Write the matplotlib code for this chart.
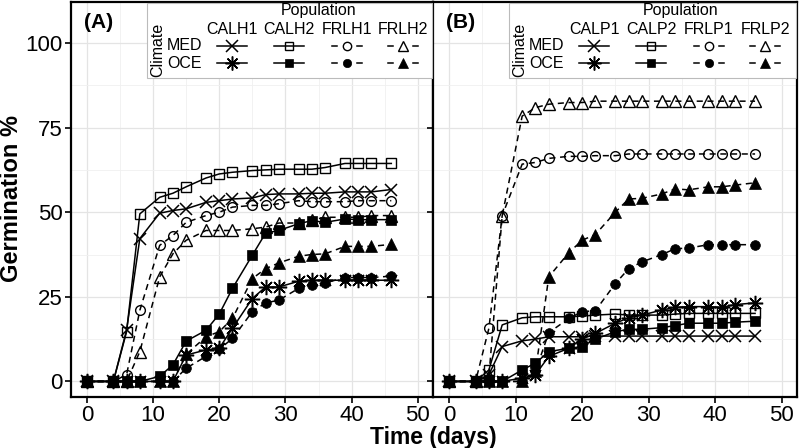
import matplotlib
matplotlib.use("Agg")
import matplotlib.pyplot as plt
from matplotlib.lines import Line2D
from matplotlib.patches import Rectangle

plt.rcParams['font.family'] = ['Liberation Sans', 'DejaVu Sans']

days = [0, 4, 6, 8, 11, 13, 15, 18, 20, 22, 25, 27, 29, 32, 34, 36, 39, 41, 43, 46]

# panel A (H populations)
calh1_med = [0, 0, 15.2, 42.2, 49.7, 50.5, 51, 52.9, 53.4, 53.9, 54.2, 55.2, 55.4, 55.4, 55.6, 55.6, 56, 56, 56, 56.7]
calh2_med = [0, 0, 14.7, 49.5, 54.4, 55.6, 57.5, 60.1, 61.3, 61.8, 62.3, 62.5, 62.7, 62.7, 62.7, 63.2, 64.4, 64.4, 64.4, 64.4]
frlh1_med = [0, 0, 2, 21, 40.2, 43.1, 47, 49, 50, 51.5, 52, 52, 52.5, 53.4, 53.1, 53.1, 53.1, 53.4, 53.4, 53.4]
frlh2_med = [0, 0, 0, 8.8, 30.9, 37.7, 41.7, 44.6, 44.6, 44.6, 45.1, 45.6, 46.8, 46.8, 47.7, 48.5, 48.5, 48.5, 49, 49]
calh1_oce = [0, 0, 0, 0, 0, 0, 7.8, 9.3, 9.8, 15.7, 24.5, 27.9, 27.9, 29.6, 29.9, 29.9, 29.9, 29.9, 29.9, 29.9]
calh2_oce = [0, 0, 0, 0, 1.5, 4.9, 11.9, 15.1, 19.9, 27.5, 37.3, 43.8, 44.6, 46.6, 47.5, 47, 48, 47.8, 47.8, 47.8]
frlh1_oce = [0, 0, 0, 0, 0, 0, 3.9, 7.4, 9.5, 12.7, 20.6, 23.2, 24, 27.5, 28.6, 29.1, 30.7, 30.7, 30.7, 31.1]
frlh2_oce = [0, 0, 0, 0, 0, 0, 8, 13.2, 14.7, 18.6, 30.4, 33.3, 35, 37, 37.5, 37.7, 39.9, 39.9, 39.9, 40.5]

# panel B (P populations)
calp1_med = [0, 0, 2, 10.3, 12, 12.5, 13.2, 13.2, 13.2, 13.4, 13.4, 13.4, 13.4, 13.4, 13.4, 13.4, 13.4, 13.4, 13.4, 13.4]
calp2_med = [0, 0, 3.4, 16.7, 18.8, 19.1, 19.1, 19.1, 19.3, 19.6, 19.9, 19.6, 19.6, 19.6, 19.9, 20.1, 20.1, 20.1, 20.1, 20.1]
frlp1_med = [0, 0, 15.7, 49, 64.2, 64.7, 65.9, 66.5, 66.5, 66.7, 66.7, 67.2, 67.2, 67.2, 67.2, 67.2, 67.2, 67.2, 67.2, 67.2]
frlp2_med = [0, 0, 1.5, 49, 78.4, 80.9, 81.9, 82.4, 82.4, 82.8, 82.8, 82.8, 82.8, 82.8, 82.8, 82.8, 82.8, 82.8, 82.8, 82.8]
calp1_oce = [0, 0, 0, 0, 1, 2, 7.4, 9.8, 12.5, 14.2, 17.2, 18.8, 19.6, 21.1, 21.9, 22.1, 22.1, 21.9, 22.7, 23.2]
calp2_oce = [0, 0, 0, 0, 3.4, 5.4, 8.8, 9.8, 10.3, 12.5, 14.7, 15.4, 15.4, 15.9, 16.5, 17.2, 17.2, 17.2, 17.5, 17.8]
frlp1_oce = [0, 0, 0, 0, 0, 3, 14.4, 18.6, 20.6, 20.9, 28.9, 33.3, 35.3, 37.5, 39.2, 39.4, 40.4, 40.4, 40.4, 40.4]
frlp2_oce = [0, 0, 0, 0, 0, 3, 30.9, 38, 41.7, 43.4, 50, 53.9, 54.1, 55.4, 56.9, 56.6, 57.5, 57.5, 58, 58.7]

pops_a = ["CALH1", "CALH2", "FRLH1", "FRLH2"]
pops_b = ["CALP1", "CALP2", "FRLP1", "FRLP2"]
climates = ["MED", "OCE"]

# style per population column / climate row
ASTER = (8, 2, 0)  # 8-arm line asterisk
marker_med = ["x", "s", "o", "^"]
marker_oce = [ASTER, "s", "o", "^"]
dashed = [False, False, True, True]
msize_med = [9, 7, 7, 8]
msize_oce = [11, 7, 7, 8]
mew_med = [1.1, 1.0, 1.0, 1.0]
mew_oce = [1.1, 0.5, 0.5, 0.5]

W, H = 800, 448
fig = plt.figure(figsize=(8, 4.48), dpi=100)


def fx(px):
    return px / W


def fy(py):
    return 1 - py / H


def draw_panel(left, right, series_med, series_oce, pops, tag, show_y):
    ax = fig.add_axes([fx(left), fy(397), fx(right - left), (397 - 2) / H])
    for i in range(4):
        ls = (0, (4, 3)) if dashed[i] else "-"
        ax.plot(days, series_med[i], color="k", lw=1.1, linestyle=ls,
                marker=marker_med[i], ms=msize_med[i], mfc="none", mec="k", mew=mew_med[i])
        ax.plot(days, series_oce[i], color="k", lw=1.1, linestyle=ls,
                marker=marker_oce[i], ms=msize_oce[i], mfc="k", mec="k", mew=mew_oce[i])
    ax.set_xlim(-2.4, 52.3)
    ax.set_ylim(-4.6, 112.1)
    ax.set_xticks([0, 10, 20, 30, 40, 50])
    ax.set_xticks([5, 15, 25, 35, 45], minor=True)
    ax.set_yticks([0, 25, 50, 75, 100])
    ax.set_yticks([12.5, 37.5, 62.5, 87.5], minor=True)
    ax.grid(True, which="major", color="#e4e4e4", lw=0.9)
    ax.grid(True, which="minor", color="#f0f0f0", lw=0.6)
    ax.set_axisbelow(True)
    for s in ax.spines.values():
        s.set_linewidth(1.6)
        s.set_color("k")
    ax.tick_params(which="major", length=4, width=1.2, color="k", labelsize=16, pad=2)
    ax.tick_params(which="minor", length=0)
    if not show_y:
        ax.tick_params(axis="y", labelleft=False)

    # panel tag
    fig.text(fx(left + 28), fy(22), tag, fontsize=15, fontweight="bold",
             ha="center", va="center")

    # legend box drawn in figure pixels
    bx = left + 76
    fig.patches.append(Rectangle((fx(bx), fy(78)), fx(right - 1 - bx), (78 - 3) / H,
                                 transform=fig.transFigure, facecolor="white",
                                 edgecolor="#bbbbbb", lw=0.8, zorder=5))
    fig.text(fx(left + 248), fy(11), "Population", fontsize=11.5, ha="center",
             va="center", zorder=6)
    fig.text(fx(left + 87), fy(50), "Climate", fontsize=11.5, ha="center",
             va="center", rotation=90, zorder=6)
    for r, clim in enumerate(climates):
        fig.text(fx(left + 114), fy(46 + 17 * r), clim, fontsize=11.5,
                 ha="center", va="center", zorder=6)
    col_x = [161, 218, 276, 332]
    for i, name in enumerate(pops):
        cx = left + col_x[i]
        fig.text(fx(cx), fy(29), name, fontsize=11.5, ha="center", va="center", zorder=6)
        for r in range(2):
            yy = fy(46 + 17 * r)
            if dashed[i]:
                for a, b in [(cx - 15, cx - 10), (cx + 10, cx + 15)]:
                    fig.lines.append(Line2D([fx(a), fx(b)], [yy, yy], color="k", lw=1.1,
                                            transform=fig.transFigure, zorder=6))
            else:
                fig.lines.append(Line2D([fx(cx - 15), fx(cx + 15)], [yy, yy], color="k",
                                        lw=1.1, transform=fig.transFigure, zorder=6))
            if r == 0:
                mk, fc, ms, mew = marker_med[i], "none", msize_med[i] - 1, mew_med[i]
            else:
                mk, fc, ms, mew = marker_oce[i], "k", msize_oce[i] - 1, mew_oce[i]
            fig.lines.append(Line2D([fx(cx)], [yy], marker=mk, ms=ms, mfc=fc, mec="k",
                                    mew=mew, linestyle="none",
                                    transform=fig.transFigure, zorder=7))
    return ax


ax_a = draw_panel(71, 433,
                  [calh1_med, calh2_med, frlh1_med, frlh2_med],
                  [calh1_oce, calh2_oce, frlh1_oce, frlh2_oce],
                  pops_a, "(A)", True)
ax_b = draw_panel(433, 797,
                  [calp1_med, calp2_med, frlp1_med, frlp2_med],
                  [calp1_oce, calp2_oce, frlp1_oce, frlp2_oce],
                  pops_b, "(B)", False)

fig.text(fx(12), fy(199), "Germination %", fontsize=17, fontweight="bold",
         rotation=90, ha="center", va="center")
fig.text(fx(433), fy(437), "Time (days)", fontsize=16.5, fontweight="bold",
         ha="center", va="center")

fig.savefig("out.png", dpi=100)
